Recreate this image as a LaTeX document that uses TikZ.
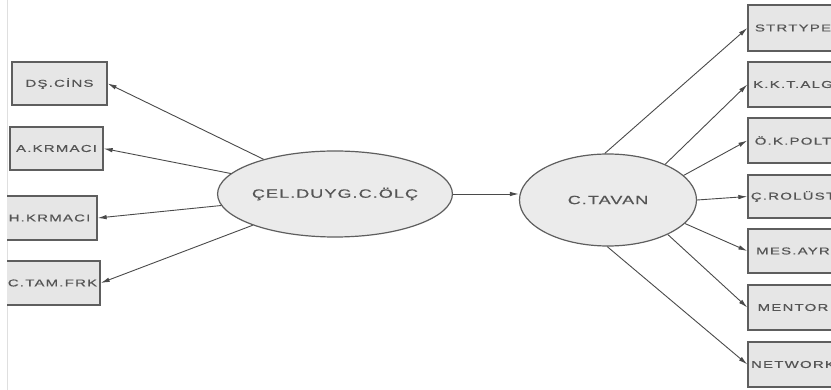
\documentclass[tikz,border=0pt]{standalone}
\usepackage{fontspec}
\newfontfamily\labfont[FakeStretch=1.5,LetterSpace=12,FakeBold=0.4]{Liberation Sans}
\newfontfamily\latfont[FakeStretch=1.5,LetterSpace=9,FakeBold=0.4]{Liberation Sans}
\usetikzlibrary{arrows.meta,shapes.geometric}
\definecolor{boxfill}{HTML}{E6E6E6}
\definecolor{boxline}{HTML}{5E5E5E}
\definecolor{txt}{HTML}{555555}
\definecolor{arr}{HTML}{4A4A4A}
\tikzset{
  obs/.style={draw=boxline, fill=boxfill, line width=1.3pt, rectangle, inner sep=0pt,
    minimum width=#1, text=txt, font=\labfont\fontsize{10}{11}\selectfont},
  lat/.style={draw=boxline, fill=boxfill!80!white, line width=1.2pt, ellipse, inner sep=0pt,
    text=txt, font=\latfont\fontsize{12}{13}\selectfont},
  conn/.style={draw=arr, line width=0.9pt, -{Latex[length=9pt,width=4.5pt]}},
}
\begin{document}
\begin{tikzpicture}[x=1pt,y=-1pt]
\useasboundingbox (0,0) rectangle (831,390);
\fill[white] (0,0) rectangle (831,390);
\draw[gray!25, line width=1pt] (7,0) -- (7,390);
\begin{scope}
\clip (7,0) rectangle (831,390);
% left indicators
\node[obs=95pt, minimum height=43pt] (dscins) at (59.5,83.5) {DŞ.CİNS};
\node[obs=93pt, minimum height=43pt] (akrmaci) at (56.5,148.5) {A.KRMACI};
\node[obs=95pt, minimum height=44pt] (hkrmaci) at (49.5,218) {H.KRMACI};
\node[obs=95pt, minimum height=44pt] (ctamfrk) at (52.5,283) {C.TAM.FRK};
% latent variables
\node[lat, minimum width=188pt, minimum height=86pt] (cel) at (335,194) {ÇEL.DUYG.C.ÖLÇ};
\node[lat, minimum width=177pt, minimum height=92pt] (tavan) at (608,200) {C.TAVAN};
% right indicators
\node[obs=90pt, minimum height=46pt] (strtype) at (793,28) {STRTYPE};
\node[obs=90pt, minimum height=45pt] (kktalg) at (793,84.5) {K.K.T.ALG};
\node[obs=90pt, minimum height=45pt] (okpolt) at (793,140.5) {Ö.K.POLT};
\node[obs=90pt, minimum height=43pt] (crolust) at (793,196.5) {Ç.ROLÜST};
\node[obs=90pt, minimum height=44pt] (mesayr) at (793,251) {MES.AYR};
\node[obs=90pt, minimum height=45pt] (mentor) at (793,307.5) {MENTOR};
\node[obs=90pt, minimum height=45pt] (network) at (793,364.5) {NETWORK};
\end{scope}
% connectors
\draw[conn] (cel) -- (dscins.east);
\draw[conn] (cel) -- (akrmaci.east);
\draw[conn] (cel) -- (hkrmaci.east);
\draw[conn] (cel) -- (ctamfrk.east);
\draw[conn] (cel.east) -- (cel.east -| tavan.west);
\draw[conn] (tavan.94) -- (strtype.west);
\draw[conn] (tavan.32) -- (kktalg.west);
\draw[conn] (tavan.18) -- (okpolt.west);
\draw[conn] (tavan.0) -- (crolust.west);
\draw[conn] (tavan.-17) -- (mesayr.west);
\draw[conn] (tavan.-30) -- (mentor.west);
\draw[conn] (tavan.-91) -- (network.west);
\end{tikzpicture}
\end{document}
